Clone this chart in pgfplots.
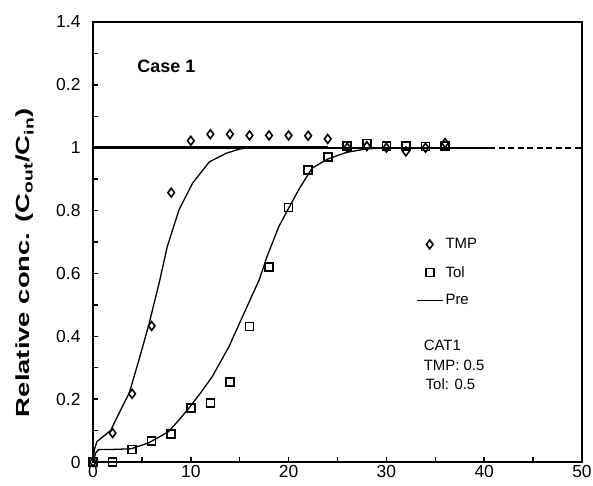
\documentclass[border=0pt]{standalone}
\usepackage{fontspec}
\setmainfont{Liberation Sans}
\usepackage{graphicx}
\usepackage{pgfplots}
\pgfplotsset{compat=1.18}

\pgfplotstableread{
x y
0 0
2 0.092
4 0.217
6 0.433
8 0.857
10 1.022
12 1.043
14 1.043
16 1.039
18 1.039
20 1.039
22 1.038
24 1.028
26 1.0
28 1.005
30 1.0
32 0.988
34 1.0
36 1.015
}\tmpdata

\pgfplotstableread{
x y
0 0
2 0
4 0.04
6 0.067
8 0.09
10 0.171
12 0.187
14 0.254
16 0.431
18 0.62
20 0.81
22 0.93
24 0.97
26 1.006
28 1.013
30 1.006
32 1.006
34 1.004
36 1.006
}\toldata

\pgfplotstableread{
x y
0 0
0.15 0.04
0.4 0.065
0.8 0.075
1.8 0.1
2.66 0.155
3.7 0.219
4.7 0.325
5.7 0.436
6.76 0.569
7.6 0.686
8.8 0.803
10.2 0.888
11.9 0.955
13.6 0.982
14.9 0.995
15.8 1.0
}\tmppre

\pgfplotstableread{
x y
0 0
0.3 0.03
0.6 0.04
2 0.04
3.9 0.042
5.7 0.061
7.7 0.096
8.8 0.134
9.8 0.171
11 0.22
12.2 0.272
13.9 0.367
15.6 0.484
17 0.58
17.8 0.654
19 0.749
20.1 0.813
21.1 0.87
22.4 0.935
24 0.964
25.9 0.985
27.9 0.996
30 1.0
}\tolpre

\begin{document}
\begin{tikzpicture}
\begin{axis}[
  scale only axis, width=489bp, height=440bp,
  xmin=0, xmax=50, ymin=0, ymax=1.4,
  axis line style={line width=2.2bp},
  xtick={0,10,20,30,40,50}, minor xtick={5,15,25,35,45},
  ytick={0,0.2,0.4,0.6,0.8,1,1.2,1.4},
  yticklabels={0,0.2,0.4,0.6,0.8,1,0.2,1.4},
  minor ytick={0.1,0.3,0.5,0.7,0.9,1.1,1.3},
  tick align=inside, xtick pos=bottom, ytick pos=left,
  major tick length=5bp, minor tick length=5bp,
  every tick/.style={line width=1.5bp, black},
  every minor tick/.style={line width=1.5bp, black},
  ticklabel style={font=\fontsize{17.5}{20}\selectfont},
  yticklabel style={xshift=-9bp},
  /pgf/number format/assume math mode=true,
  clip=false,
  legend style={draw=none, fill=none, inner sep=0pt, at={(axis cs:33.0,0.718)}, anchor=north west,
    font=\fontsize{15}{18}\selectfont, row sep=12bp},
  legend cell align=left,
]
% y=1 lines
\addplot[black, line width=3bp, forget plot] coordinates {(0,1) (24,1)};
\addplot[black, line width=2bp, forget plot] coordinates {(24,1) (40.5,1)};
\addplot[black, line width=2bp, dash pattern=on 6bp off 3.5bp, forget plot] coordinates {(40.5,1) (50,1)};
% predictions
\addplot[black, line width=1.3bp, forget plot] table {\tmppre};
\addplot[black, line width=1.3bp, forget plot] table {\tolpre};
% data
\addplot[black, only marks, mark=diamond, mark size=4.4bp, mark options={line width=1.6bp, fill=none}, forget plot] table {\tmpdata};
\addplot[black, only marks, mark=square, mark size=4bp, mark options={line width=1.6bp, fill=none}, forget plot] table {\toldata};

\addlegendimage{legend image code/.code={\draw[black, line width=1.6bp] plot[mark=diamond, mark size=4.4bp] coordinates {(13bp,0bp)};}}
\addlegendentry{TMP}
\addlegendimage{legend image code/.code={\draw[black, line width=1.6bp] plot[mark=square, mark size=4bp] coordinates {(13bp,0bp)};}}
\addlegendentry{Tol}
\addlegendimage{legend image code/.code={\draw[black, line width=1.6bp] (0bp,0bp) -- (26bp,0bp);}}
\addlegendentry{Pre}

\node[font=\fontsize{18}{21}\selectfont\bfseries] at (axis cs:7.5,1.258) {Case 1};
\node[anchor=base west, inner sep=0pt, font=\fontsize{15}{18}\selectfont] at (axis cs:33.8,0.355) {CAT1};
\node[anchor=base west, inner sep=0pt, font=\fontsize{15}{18}\selectfont] at (axis cs:33.8,0.291) {TMP: 0.5};
\node[anchor=base west, inner sep=0pt, font=\fontsize{15}{18}\selectfont] at (axis cs:34.0,0.231) {Tol: 0.5};
\node[rotate=90, inner sep=0pt] at (axis description cs:-0.139,0.453) {\fontsize{19}{22}\selectfont\bfseries\scalebox{1.45}[1]{Relative conc. (C\textsubscript{out}/C\textsubscript{in})}};
\end{axis}
\pgfresetboundingbox
\useasboundingbox (-93bp,-24bp) rectangle (500bp,462bp);
\end{tikzpicture}
\end{document}
